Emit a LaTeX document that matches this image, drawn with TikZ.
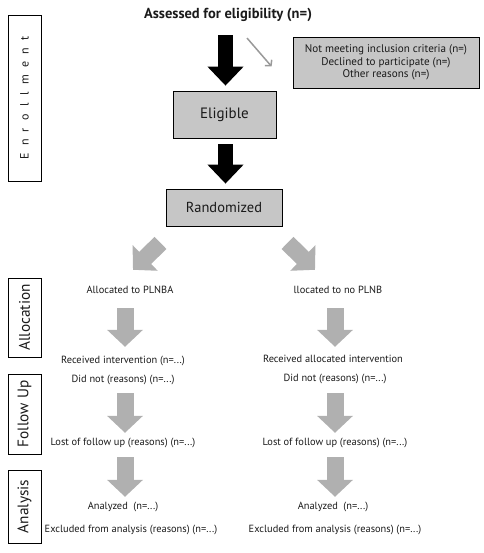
\documentclass[tikz,border=0pt]{standalone}
\usepackage{fontspec}
\setmainfont{PT Sans}
\usetikzlibrary{arrows.meta,calc}
\definecolor{boxgray}{HTML}{C6C6C6}
\definecolor{arrgray}{HTML}{B0B0B0}
\definecolor{thingray}{HTML}{999999}
\definecolor{txt}{HTML}{1A1A1A}
\tikzset{
  phase/.style={draw=black,line width=0.8pt,rotate=90,inner sep=0pt,text=txt,font=\fontsize{15.3}{17}\selectfont},
  graybox/.style={draw=black,line width=0.8pt,fill=boxgray,inner sep=0pt,text=txt},
  lbl/.style={inner sep=0pt,text height=7pt,text depth=2pt,text=txt,font=\fontsize{10.4}{12}\selectfont},
  bigblack/.style={draw=black,line width=15pt,line cap=butt,-{Triangle[length=19pt,width=35pt]}},
  biggray/.style={draw=arrgray,line width=17pt,line cap=butt,-{Triangle[length=17pt,width=35pt]}},
  thinarrow/.style={draw=thingray,line width=1.5pt,-{Straight Barb[length=4pt,width=9pt]}}
}
\begin{document}
\begin{tikzpicture}[x=1pt,y=-1pt]
\useasboundingbox (0,0) rectangle (483,553);
% phase labels
\node[phase,minimum width=166pt,minimum height=33pt,font=\fontsize{12}{14}\selectfont] (enr) at (24.5,98)
  {E\kern7.4pt n\kern7.4pt r\kern7.4pt o\kern7.4pt l\kern7.4pt l\kern7.4pt m\kern7.4pt e\kern7.4pt n\kern7.4pt t};
\node[phase,minimum width=79pt,minimum height=33pt] (allocp) at (24.5,317.5) {Allocation};
\node[phase,minimum width=80pt,minimum height=33pt] (follp) at (24.5,414) {Follow Up};
\node[phase,minimum width=73pt,minimum height=33pt] (anap) at (24.5,506.5) {Analysis};
% top
\node[inner sep=0pt,text=txt,font=\fontsize{14.5}{16}\bfseries\selectfont] (assess) at (228,15) {Assessed for eligibility (n=)};
\node[graybox,minimum width=186pt,minimum height=51pt,align=center,font=\fontsize{11.1}{12.5}\selectfont] (excl) at (386,62.5)
  {Not meeting inclusion criteria (n=)\\Declined to participate (n=)\\Other reasons (n=)};
\node[graybox,minimum width=103pt,minimum height=47pt,font=\fontsize{15}{17}\selectfont] (elig) at (224.5,114.5) {Eligible};
\node[graybox,minimum width=116pt,minimum height=37pt,font=\fontsize{14.5}{16}\selectfont] (rand) at (224,207.5) {Randomized};
% columns
\coordinate (colL) at (125,0);
\coordinate (colR) at (335,0);
\coordinate (colB) at (225.5,0);
% left column
\node[lbl] (allocL) at (130,291) {Allocated to PLNBA};
\node[lbl] (recvL) at (123,361) {Received intervention (n=...)};
\node[lbl] (didL) at (123,380) {Did not (reasons) (n=...)};
\node[lbl] (lostL) at (123,443) {Lost of follow up (reasons) (n=...)};
\node[lbl] (anaL) at (123,507) {Analyzed\ \ (n=...)};
\node[lbl] (exL) at (131,530) {Excluded from analysis (reasons) (n=...)};
% right column
\node[lbl] (allocR) at (338,291) {llocated to no PLNB};
\node[lbl] (recvR) at (333,360) {Received allocated intervention};
\node[lbl] (didR) at (335,379) {Did not (reasons) (n=...)};
\node[lbl] (lostR) at (335,443) {Lost of follow up (reasons) (n=...)};
\node[lbl] (anaR) at (333,507) {Analyzed\ \ (n=...)};
\node[lbl] (exR) at (335,530) {Excluded from analysis (reasons) (n=...)};
% black arrows
\draw[bigblack] ([yshift=-27pt]assess.north -| colB) -- ([yshift=5pt]elig.north -| colB);
\draw[bigblack] ([yshift=-6pt]elig.south -| colB) -- ([yshift=5pt]rand.north -| colB);
% thin arrow
\draw[thinarrow] ([xshift=19pt,yshift=-30pt]assess.north) -- ([xshift=-21pt,yshift=-4pt]excl.west);
% diagonal arrows
\draw[biggray] ([xshift=-63.5pt,yshift=-16.5pt]rand.south) -- ([xshift=3pt,yshift=16.5pt]allocL.north);
\draw[biggray] ([xshift=63.5pt,yshift=-16.5pt]rand.south) -- ([xshift=-23pt,yshift=16.5pt]allocR.north);
% down arrows
\draw[biggray] ([yshift=-12.5pt]allocL.south -| colL) -- ([yshift=9.5pt]recvL.north -| colL);
\draw[biggray] ([yshift=-8.5pt]didL.south -| colL) -- ([yshift=5.5pt]lostL.north -| colL);
\draw[biggray] ([yshift=-9.5pt]lostL.south -| colL) -- ([yshift=5.5pt]anaL.north -| colL);
\draw[biggray] ([yshift=-12.5pt]allocR.south -| colR) -- ([yshift=8.5pt]recvR.north -| colR);
\draw[biggray] ([yshift=-9.5pt]didR.south -| colR) -- ([yshift=5.5pt]lostR.north -| colR);
\draw[biggray] ([yshift=-9.5pt]lostR.south -| colR) -- ([yshift=5.5pt]anaR.north -| colR);
\end{tikzpicture}
\end{document}
